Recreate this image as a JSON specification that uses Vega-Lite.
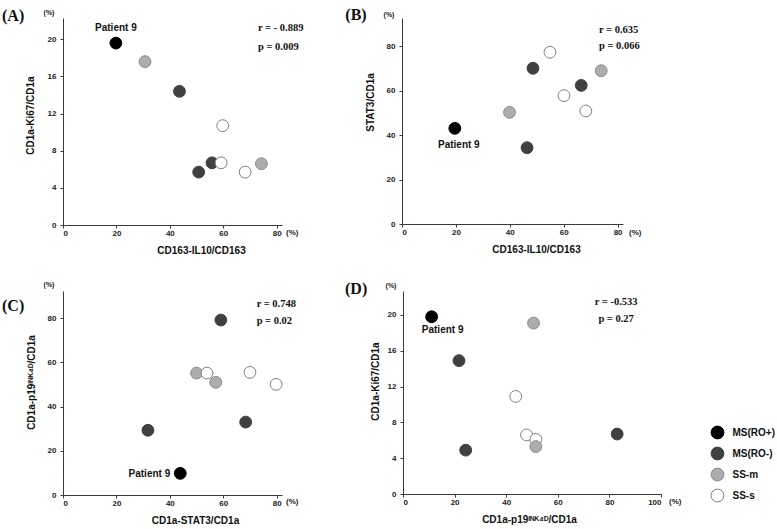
{
  "$schema": "https://vega.github.io/schema/vega-lite/v6.json",
  "padding": {"left": 2, "top": 6, "right": 0, "bottom": 0},
  "background": "white",
  "datasets": {
    "pts": [
      {"panel": "A", "group": "MS(RO+)", "x": 19.8, "y": 19.6, "note": "Patient 9"},
      {"panel": "A", "group": "SS-m", "x": 30.7, "y": 17.6},
      {"panel": "A", "group": "MS(RO-)", "x": 43.6, "y": 14.4},
      {"panel": "A", "group": "SS-s", "x": 59.8, "y": 10.7},
      {"panel": "A", "group": "MS(RO-)", "x": 55.8, "y": 6.7},
      {"panel": "A", "group": "SS-s", "x": 59.2, "y": 6.7},
      {"panel": "A", "group": "MS(RO-)", "x": 50.8, "y": 5.7},
      {"panel": "A", "group": "SS-s", "x": 68.2, "y": 5.7},
      {"panel": "A", "group": "SS-m", "x": 74.3, "y": 6.6},
      {"panel": "B", "group": "MS(RO+)", "x": 19.6, "y": 43.0, "note": "Patient 9"},
      {"panel": "B", "group": "SS-m", "x": 39.9, "y": 50.2},
      {"panel": "B", "group": "MS(RO-)", "x": 46.4, "y": 34.3},
      {"panel": "B", "group": "MS(RO-)", "x": 48.6, "y": 70.0},
      {"panel": "B", "group": "SS-s", "x": 54.9, "y": 77.2},
      {"panel": "B", "group": "SS-s", "x": 60.1, "y": 57.7},
      {"panel": "B", "group": "MS(RO-)", "x": 66.5, "y": 62.3},
      {"panel": "B", "group": "SS-s", "x": 68.2, "y": 50.8},
      {"panel": "B", "group": "SS-m", "x": 73.9, "y": 68.9},
      {"panel": "C", "group": "MS(RO-)", "x": 59.1, "y": 79.2},
      {"panel": "C", "group": "SS-m", "x": 50.0, "y": 55.2},
      {"panel": "C", "group": "SS-s", "x": 53.9, "y": 55.2},
      {"panel": "C", "group": "SS-m", "x": 57.2, "y": 51.0},
      {"panel": "C", "group": "SS-s", "x": 70.0, "y": 55.5},
      {"panel": "C", "group": "SS-s", "x": 79.8, "y": 50.1},
      {"panel": "C", "group": "MS(RO-)", "x": 68.4, "y": 33.0},
      {"panel": "C", "group": "MS(RO-)", "x": 31.8, "y": 29.3},
      {"panel": "C", "group": "MS(RO+)", "x": 43.9, "y": 9.8, "note": "Patient 9"},
      {"panel": "D", "group": "MS(RO+)", "x": 11.1, "y": 19.8, "note": "Patient 9"},
      {"panel": "D", "group": "SS-m", "x": 50.6, "y": 19.1},
      {"panel": "D", "group": "MS(RO-)", "x": 21.7, "y": 14.9},
      {"panel": "D", "group": "SS-s", "x": 43.7, "y": 10.9},
      {"panel": "D", "group": "SS-s", "x": 47.9, "y": 6.6},
      {"panel": "D", "group": "SS-s", "x": 51.5, "y": 6.1},
      {"panel": "D", "group": "SS-m", "x": 51.5, "y": 5.3},
      {"panel": "D", "group": "MS(RO-)", "x": 24.3, "y": 4.9},
      {"panel": "D", "group": "MS(RO-)", "x": 83.0, "y": 6.7}
    ]
  },
  "vconcat": [
    {
      "spacing": 41,
      "hconcat": [
        {
          "width": 219, "height": 207,
          "layer": [
            {
              "data": {"name": "pts"},
              "transform": [{"filter": "datum.panel === 'A'"}],
              "mark": {"type": "circle", "size": 140, "opacity": 1, "strokeWidth": 1},
              "encoding": {
                "x": {"field": "x", "type": "quantitative", "scale": {"domain": [0, 82], "nice": false}, "axis": {"values": [0, 20, 40, 60, 80], "title": "CD163-IL10/CD163", "titleX": 138, "titlePadding": 8}},
                "y": {"field": "y", "type": "quantitative", "scale": {"domain": [0, 22.3], "nice": false}, "axis": {"values": [0, 4, 8, 12, 16, 20], "title": "CD1a-Ki67/CD1a", "titlePadding": 12, "titleY": 97}},
                "fill": {"field": "group", "type": "nominal", "scale": {"domain": ["MS(RO+)", "MS(RO-)", "SS-m", "SS-s"], "range": ["#000000", "#404040", "#adadad", "#ffffff"]}, "legend": null},
                "stroke": {"field": "group", "type": "nominal", "scale": {"domain": ["MS(RO+)", "MS(RO-)", "SS-m", "SS-s"], "range": ["#000000", "#404040", "#8a8a8a", "#808080"]}, "legend": null}
              }
            },
            {
              "data": {"name": "pts"},
              "transform": [{"filter": "datum.panel === 'A' && datum.note"}],
              "mark": {"type": "text", "font": "Liberation Sans", "fontWeight": "bold", "fontSize": 10, "align": "center", "baseline": "middle", "dy": -15, "color": "#111"},
              "encoding": {"x": {"field": "x", "type": "quantitative"}, "y": {"field": "y", "type": "quantitative"}, "text": {"field": "note"}}
            },
            {
              "data": {"values": [{}]},
              "mark": {"type": "text", "font": "Liberation Serif", "fontWeight": "bold", "fontSize": 10.5, "align": "left", "baseline": "middle", "color": "#111"},
              "encoding": {"x": {"datum": 73}, "y": {"datum": 21.2}, "text": {"value": "r = - 0.889"}}
            },
            {
              "data": {"values": [{}]},
              "mark": {"type": "text", "font": "Liberation Serif", "fontWeight": "bold", "fontSize": 10.5, "align": "left", "baseline": "middle", "color": "#111"},
              "encoding": {"x": {"datum": 73}, "y": {"datum": 19.2}, "text": {"value": "p = 0.009"}}
            },
            {
              "data": {"values": [{}]},
              "mark": {"type": "text", "font": "Liberation Serif", "fontWeight": "bold", "fontSize": 16, "align": "left", "baseline": "middle", "dx": -61, "dy": -2.5, "color": "#111"},
              "encoding": {"x": {"datum": 0}, "y": {"datum": 22.3}, "text": {"value": "(A)"}}
            },
            {
              "data": {"values": [{}]},
              "mark": {"type": "text", "font": "Liberation Sans", "fontWeight": "bold", "fontSize": 7, "align": "center", "baseline": "middle", "dx": -14, "dy": -5, "color": "#222"},
              "encoding": {"x": {"datum": 0}, "y": {"datum": 22.3}, "text": {"value": "(%)"}}
            },
            {
              "data": {"values": [{}]},
              "mark": {"type": "text", "font": "Liberation Sans", "fontWeight": "bold", "fontSize": 8, "align": "left", "baseline": "middle", "dx": 4, "dy": 8, "color": "#222"},
              "encoding": {"x": {"datum": 82}, "y": {"datum": 0}, "text": {"value": "(%)"}}
            }
          ]
        },
        {
          "width": 221, "height": 206,
          "layer": [
            {
              "data": {"name": "pts"},
              "transform": [{"filter": "datum.panel === 'B'"}],
              "mark": {"type": "circle", "size": 140, "opacity": 1, "strokeWidth": 1},
              "encoding": {
                "x": {"field": "x", "type": "quantitative", "scale": {"domain": [0, 82], "nice": false}, "axis": {"values": [0, 20, 40, 60, 80], "title": "CD163-IL10/CD163", "titleX": 134, "titlePadding": 8}},
                "y": {"field": "y", "type": "quantitative", "scale": {"domain": [0, 92.6], "nice": false}, "axis": {"values": [0, 20, 40, 60, 80], "title": "STAT3/CD1a", "titlePadding": 11, "titleY": 84}},
                "fill": {"field": "group", "type": "nominal", "scale": {"domain": ["MS(RO+)", "MS(RO-)", "SS-m", "SS-s"], "range": ["#000000", "#404040", "#adadad", "#ffffff"]}, "legend": null},
                "stroke": {"field": "group", "type": "nominal", "scale": {"domain": ["MS(RO+)", "MS(RO-)", "SS-m", "SS-s"], "range": ["#000000", "#404040", "#8a8a8a", "#808080"]}, "legend": null}
              }
            },
            {
              "data": {"name": "pts"},
              "transform": [{"filter": "datum.panel === 'B' && datum.note"}],
              "mark": {"type": "text", "font": "Liberation Sans", "fontWeight": "bold", "fontSize": 10, "align": "center", "baseline": "middle", "dx": 4, "dy": 17, "color": "#111"},
              "encoding": {"x": {"field": "x", "type": "quantitative"}, "y": {"field": "y", "type": "quantitative"}, "text": {"field": "note"}}
            },
            {
              "data": {"values": [{}]},
              "mark": {"type": "text", "font": "Liberation Serif", "fontWeight": "bold", "fontSize": 10.5, "align": "left", "baseline": "middle", "color": "#111"},
              "encoding": {"x": {"datum": 73.1}, "y": {"datum": 87.2}, "text": {"value": "r = 0.635"}}
            },
            {
              "data": {"values": [{}]},
              "mark": {"type": "text", "font": "Liberation Serif", "fontWeight": "bold", "fontSize": 10.5, "align": "left", "baseline": "middle", "color": "#111"},
              "encoding": {"x": {"datum": 73.1}, "y": {"datum": 80.1}, "text": {"value": "p = 0.066"}}
            },
            {
              "data": {"values": [{}]},
              "mark": {"type": "text", "font": "Liberation Serif", "fontWeight": "bold", "fontSize": 16, "align": "left", "baseline": "middle", "dx": -56.7, "dy": -3.5, "color": "#111"},
              "encoding": {"x": {"datum": 0}, "y": {"datum": 92.6}, "text": {"value": "(B)"}}
            },
            {
              "data": {"values": [{}]},
              "mark": {"type": "text", "font": "Liberation Sans", "fontWeight": "bold", "fontSize": 7, "align": "center", "baseline": "middle", "dx": -13, "dy": -3, "color": "#222"},
              "encoding": {"x": {"datum": 0}, "y": {"datum": 92.6}, "text": {"value": "(%)"}}
            },
            {
              "data": {"values": [{}]},
              "mark": {"type": "text", "font": "Liberation Sans", "fontWeight": "bold", "fontSize": 8, "align": "left", "baseline": "middle", "dx": 6, "dy": 9, "color": "#222"},
              "encoding": {"x": {"datum": 82}, "y": {"datum": 0}, "text": {"value": "(%)"}}
            }
          ]
        }
      ]
    },
    {
      "spacing": 46,
      "resolve": {"legend": {"fill": "independent", "stroke": "independent"}},
      "hconcat": [
        {
          "width": 219, "height": 204,
          "layer": [
            {
              "data": {"name": "pts"},
              "transform": [{"filter": "datum.panel === 'C'"}],
              "mark": {"type": "circle", "size": 140, "opacity": 1, "strokeWidth": 1},
              "encoding": {
                "x": {"field": "x", "type": "quantitative", "scale": {"domain": [0, 82], "nice": false}, "axis": {"values": [0, 20, 40, 60, 80], "title": "CD1a-STAT3/CD1a", "titleX": 132, "titlePadding": 8}},
                "y": {"field": "y", "type": "quantitative", "scale": {"domain": [0, 92.35], "nice": false}, "axis": {"values": [0, 20, 40, 60, 80], "title": "CD1a-p19ᴵᴺᴷ⁴ᴰ/CD1a", "titlePadding": 10.5, "titleY": 91}},
                "fill": {"field": "group", "type": "nominal", "scale": {"domain": ["MS(RO+)", "MS(RO-)", "SS-m", "SS-s"], "range": ["#000000", "#404040", "#adadad", "#ffffff"]}, "legend": null},
                "stroke": {"field": "group", "type": "nominal", "scale": {"domain": ["MS(RO+)", "MS(RO-)", "SS-m", "SS-s"], "range": ["#000000", "#404040", "#8a8a8a", "#808080"]}, "legend": null}
              }
            },
            {
              "data": {"name": "pts"},
              "transform": [{"filter": "datum.panel === 'C' && datum.note"}],
              "mark": {"type": "text", "font": "Liberation Sans", "fontWeight": "bold", "fontSize": 10, "align": "right", "baseline": "middle", "dx": -10, "dy": 0.5, "color": "#111"},
              "encoding": {"x": {"field": "x", "type": "quantitative"}, "y": {"field": "y", "type": "quantitative"}, "text": {"field": "note"}}
            },
            {
              "data": {"values": [{}]},
              "mark": {"type": "text", "font": "Liberation Serif", "fontWeight": "bold", "fontSize": 10.5, "align": "left", "baseline": "middle", "color": "#111"},
              "encoding": {"x": {"datum": 72.5}, "y": {"datum": 86.5}, "text": {"value": "r = 0.748"}}
            },
            {
              "data": {"values": [{}]},
              "mark": {"type": "text", "font": "Liberation Serif", "fontWeight": "bold", "fontSize": 10.5, "align": "left", "baseline": "middle", "color": "#111"},
              "encoding": {"x": {"datum": 72.5}, "y": {"datum": 78.9}, "text": {"value": "p = 0.02"}}
            },
            {
              "data": {"values": [{}]},
              "mark": {"type": "text", "font": "Liberation Serif", "fontWeight": "bold", "fontSize": 16, "align": "left", "baseline": "middle", "dx": -61, "dy": 14.5, "color": "#111"},
              "encoding": {"x": {"datum": 0}, "y": {"datum": 92.35}, "text": {"value": "(C)"}}
            },
            {
              "data": {"values": [{}]},
              "mark": {"type": "text", "font": "Liberation Sans", "fontWeight": "bold", "fontSize": 7, "align": "center", "baseline": "middle", "dx": -14, "dy": -6, "color": "#222"},
              "encoding": {"x": {"datum": 0}, "y": {"datum": 92.35}, "text": {"value": "(%)"}}
            },
            {
              "data": {"values": [{}]},
              "mark": {"type": "text", "font": "Liberation Sans", "fontWeight": "bold", "fontSize": 8, "align": "left", "baseline": "middle", "dx": 4, "dy": 7, "color": "#222"},
              "encoding": {"x": {"datum": 82}, "y": {"datum": 0}, "text": {"value": "(%)"}}
            }
          ]
        },
        {
          "width": 258, "height": 203,
          "layer": [
            {
              "data": {"name": "pts"},
              "transform": [{"filter": "datum.panel === 'D'"}],
              "mark": {"type": "circle", "size": 140, "opacity": 1, "strokeWidth": 1},
              "encoding": {
                "x": {"field": "x", "type": "quantitative", "scale": {"domain": [0, 100], "nice": false}, "axis": {"values": [0, 20, 40, 60, 80, 100], "title": "CD1a-p19ᴵᴺᴷ⁴ᴰ/CD1a", "titleX": 126, "titlePadding": 8}},
                "y": {"field": "y", "type": "quantitative", "scale": {"domain": [0, 22.68], "nice": false}, "axis": {"values": [0, 4, 8, 12, 16, 20], "title": "CD1a-Ki67/CD1a", "titlePadding": 7, "titleY": 90}},
                "fill": {"field": "group", "type": "nominal", "scale": {"domain": ["MS(RO+)", "MS(RO-)", "SS-m", "SS-s"], "range": ["#000000", "#404040", "#adadad", "#ffffff"]},
                  "legend": {"orient": "none", "legendX": 307.5, "legendY": 134.5, "title": null, "symbolType": "circle", "symbolSize": 165, "symbolStrokeWidth": 1, "symbolOpacity": 1, "labelFont": "Liberation Sans", "labelFontWeight": "bold", "labelFontSize": 10, "labelColor": "#111", "labelOffset": 8, "rowPadding": 3, "padding": 0, "symbolOffset": 0}},
                "stroke": {"field": "group", "type": "nominal", "scale": {"domain": ["MS(RO+)", "MS(RO-)", "SS-m", "SS-s"], "range": ["#000000", "#404040", "#8a8a8a", "#808080"]},
                  "legend": {"orient": "none", "legendX": 307.5, "legendY": 134.5, "title": null, "symbolType": "circle", "symbolSize": 165, "symbolStrokeWidth": 1, "symbolOpacity": 1, "labelFont": "Liberation Sans", "labelFontWeight": "bold", "labelFontSize": 10, "labelColor": "#111", "labelOffset": 8, "rowPadding": 3, "padding": 0, "symbolOffset": 0}}
              }
            },
            {
              "data": {"name": "pts"},
              "transform": [{"filter": "datum.panel === 'D' && datum.note"}],
              "mark": {"type": "text", "font": "Liberation Sans", "fontWeight": "bold", "fontSize": 10, "align": "center", "baseline": "middle", "dx": 11, "dy": 13, "color": "#111"},
              "encoding": {"x": {"field": "x", "type": "quantitative"}, "y": {"field": "y", "type": "quantitative"}, "text": {"field": "note"}}
            },
            {
              "data": {"values": [{}]},
              "mark": {"type": "text", "font": "Liberation Serif", "fontWeight": "bold", "fontSize": 10.5, "align": "center", "baseline": "middle", "color": "#111"},
              "encoding": {"x": {"datum": 82.6}, "y": {"datum": 21.45}, "text": {"value": "r = -0.533"}}
            },
            {
              "data": {"values": [{}]},
              "mark": {"type": "text", "font": "Liberation Serif", "fontWeight": "bold", "fontSize": 10.5, "align": "center", "baseline": "middle", "color": "#111"},
              "encoding": {"x": {"datum": 82.6}, "y": {"datum": 19.55}, "text": {"value": "p = 0.27"}}
            },
            {
              "data": {"values": [{}]},
              "mark": {"type": "text", "font": "Liberation Serif", "fontWeight": "bold", "fontSize": 16, "align": "left", "baseline": "middle", "dx": -58, "dy": -2, "color": "#111"},
              "encoding": {"x": {"datum": 0}, "y": {"datum": 22.68}, "text": {"value": "(D)"}}
            },
            {
              "data": {"values": [{}]},
              "mark": {"type": "text", "font": "Liberation Sans", "fontWeight": "bold", "fontSize": 7, "align": "center", "baseline": "middle", "dx": -12, "dy": -5, "color": "#222"},
              "encoding": {"x": {"datum": 0}, "y": {"datum": 22.68}, "text": {"value": "(%)"}}
            },
            {
              "data": {"values": [{}]},
              "mark": {"type": "text", "font": "Liberation Sans", "fontWeight": "bold", "fontSize": 8, "align": "left", "baseline": "middle", "dx": 8, "dy": 8, "color": "#222"},
              "encoding": {"x": {"datum": 100}, "y": {"datum": 0}, "text": {"value": "(%)"}}
            }
          ]
        }
      ]
    }
  ],
  "spacing": 26,
  "config": {
    "view": {"stroke": null},
    "font": "Liberation Sans",
    "axis": {
      "grid": false,
      "domainColor": "#3a3a3a",
      "domainWidth": 1,
      "tickColor": "#3a3a3a",
      "tickSize": 3,
      "labelFont": "Liberation Sans",
      "labelFontWeight": "bold",
      "labelFontSize": 8,
      "labelColor": "#222",
      "titleFont": "Liberation Sans",
      "titleFontWeight": "bold",
      "titleFontSize": 10,
      "titleColor": "#111"
    },
    "axisX": {"labelPadding": 1},
    "axisY": {"labelPadding": 4}
  }
}
